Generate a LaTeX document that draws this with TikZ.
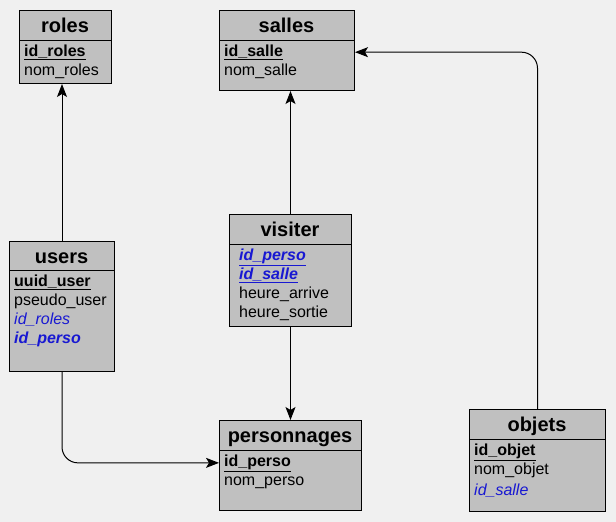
\documentclass[tikz,border=0pt]{standalone}
\usepackage{fontspec}
\setmainfont{Liberation Sans}
\usetikzlibrary{arrows.meta, positioning, calc}
\definecolor{bgcol}{RGB}{240,240,240}
\definecolor{tblcol}{RGB}{192,192,192}
\definecolor{fkblue}{RGB}{24,24,210}

\begin{document}
\begin{tikzpicture}[x=1pt, y=-1pt,
    tbl/.style={draw, fill=tblcol, line width=1pt, anchor=north west, inner sep=0pt},
    title/.style={anchor=base, inner sep=0pt, font=\fontsize{20}{24}\selectfont\bfseries},
    field/.style={anchor=base west, inner sep=0pt, font=\fontsize{16}{19}\selectfont},
    pk/.style={field, font=\fontsize{16}{19}\selectfont\bfseries},
    fk/.style={field, text=fkblue, font=\fontsize{16}{19}\selectfont\itshape},
    fkb/.style={field, text=fkblue, font=\fontsize{16}{19}\selectfont\bfseries\itshape},
    >={Stealth[length=13pt, width=10pt, inset=3pt]}
]
\fill[bgcol] (0,0) rectangle (616,522);
\useasboundingbox (0,0) rectangle (616,522);

% Table roles
\node[tbl, minimum width=92pt, minimum height=73pt] (roles) at (19,10) {};
\draw[line width=1pt] ([yshift=-30pt]roles.north west) -- ([yshift=-30pt]roles.north east);
\node[title] (roles-t) at (65,32) {roles};
\node[pk] (roles-id) at (24,56) {\underline{id\_roles}};
\node[field] (roles-nom) at (24,75) {nom\_roles};

% Table salles
\node[tbl, minimum width=135pt, minimum height=80pt] (salles) at (219,10) {};
\draw[line width=1pt] ([yshift=-30pt]salles.north west) -- ([yshift=-30pt]salles.north east);
\node[title] (salles-t) at (286.5,32) {salles};
\node[pk] (salle-id) at (224,56) {\underline{id\_salle}};
\node[field] (salle-nom) at (224,75) {nom\_salle};

% Table users
\node[tbl, minimum width=105pt, minimum height=130pt] (users) at (9,241) {};
\draw[line width=1pt] ([yshift=-29pt]users.north west) -- ([yshift=-29pt]users.north east);
\node[title] (users-t) at (61.5,263) {users};
\node[pk] (user-id) at (14,286) {\underline{uuid\_user}};
\node[field] (user-pseudo) at (14,305) {pseudo\_user};
\node[fk] (user-role) at (14,324) {id\_roles};
\node[fkb] (user-perso) at (14,343) {id\_perso};

% Table visiter
\node[tbl, minimum width=122pt, minimum height=112pt] (visiter) at (229,214) {};
\draw[line width=1pt] ([yshift=-30pt]visiter.north west) -- ([yshift=-30pt]visiter.north east);
\node[title] (visiter-t) at (290,236) {visiter};
\node[fkb] (visit-perso) at (239,260) {\underline{id\_perso}};
\node[fkb] (visit-salle) at (239,279) {\underline{id\_salle}};
\node[field] (visit-arr) at (239,298) {heure\_arrive};
\node[field] (visit-sort) at (239,317) {heure\_sortie};

% Table personnages
\node[tbl, minimum width=142pt, minimum height=90pt] (personnages) at (219,420) {};
\draw[line width=1pt] ([yshift=-30pt]personnages.north west) -- ([yshift=-30pt]personnages.north east);
\node[title] (personnages-t) at (290,442) {personnages};
\node[pk] (perso-id) at (224,466) {\underline{id\_perso}};
\node[field] (perso-nom) at (224,485) {nom\_perso};

% Table objets
\node[tbl, minimum width=136pt, minimum height=102pt] (objets) at (469,409) {};
\draw[line width=1pt] ([yshift=-30pt]objets.north west) -- ([yshift=-30pt]objets.north east);
\node[title] (objets-t) at (537,431) {objets};
\node[pk] (objet-id) at (474,455) {\underline{id\_objet}};
\node[field] (objet-nom) at (474,474) {nom\_objet};
\node[fk] (objet-salle) at (474,495) {id\_salle};

% Connections
\draw[->, line width=1pt] (users.north) -- (users.north |- roles.south);
\draw[->, line width=1pt] (visiter.north) -- (visiter.north |- salles.south);
\draw[->, line width=1pt] (visiter.south) -- (visiter.south |- personnages.north);
\draw[->, line width=1pt, rounded corners=16pt] (users.south) |- (personnages.west |- perso-id);
\draw[->, line width=1pt, rounded corners=16pt] (objets.north) |- (salles.east |- salle-id);

\end{tikzpicture}
\end{document}
